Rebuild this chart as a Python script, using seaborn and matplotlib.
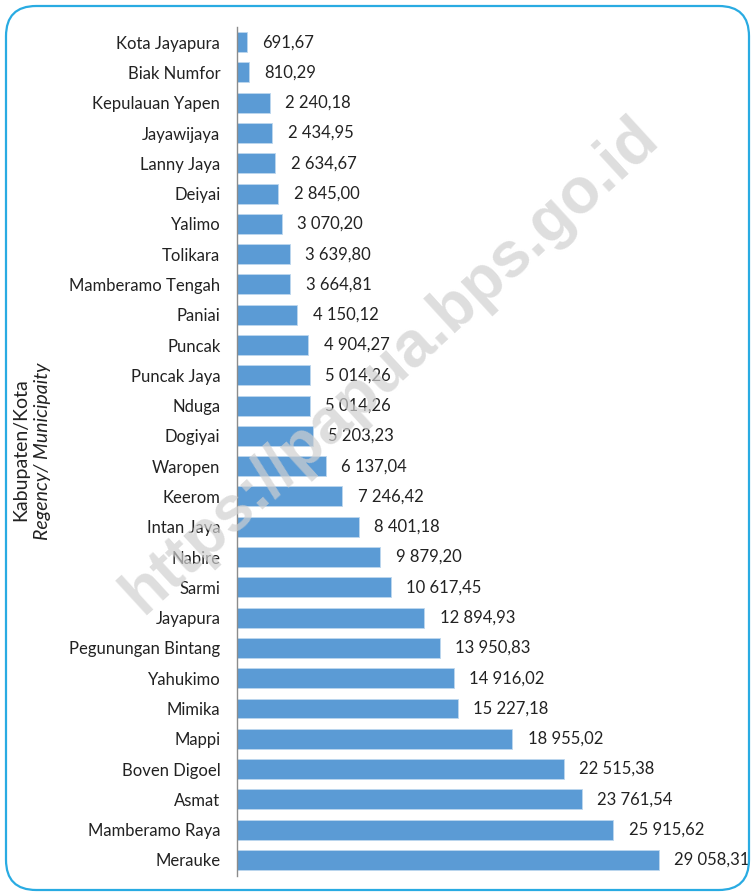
import matplotlib
matplotlib.use("Agg")
import matplotlib.pyplot as plt
import seaborn as sns
import pandas as pd
from matplotlib.patches import FancyBboxPatch

# data
wilayah = ["Kota Jayapura", "Biak Numfor", "Kepulauan Yapen", "Jayawijaya", "Lanny Jaya",
           "Deiyai", "Yalimo", "Tolikara", "Mamberamo Tengah", "Paniai", "Puncak",
           "Puncak Jaya", "Nduga", "Dogiyai", "Waropen", "Keerom", "Intan Jaya", "Nabire",
           "Sarmi", "Jayapura", "Pegunungan Bintang", "Yahukimo", "Mimika", "Mappi",
           "Boven Digoel", "Asmat", "Mamberamo Raya", "Merauke"]
luas = [691.67, 810.29, 2240.18, 2434.95, 2634.67, 2845.00, 3070.20, 3639.80, 3664.81,
        4150.12, 4904.27, 5014.26, 5014.26, 5203.23, 6137.04, 7246.42, 8401.18, 9879.20,
        10617.45, 12894.93, 13950.83, 14916.02, 15227.18, 18955.02, 22515.38, 23761.54,
        25915.62, 29058.31]

df = pd.DataFrame({"wilayah": wilayah, "luas": luas})

sns.set_style("white")
plt.rcParams["font.family"] = ["Lato", "DejaVu Sans"]

fig = plt.figure(figsize=(7.55, 8.96), dpi=100)
ax = fig.add_axes([237 / 755, 1 - 876 / 896, (745 - 237) / 755, (876 - 27) / 896])

sns.barplot(data=df, y="wilayah", x="luas", color="#5B9BD5", saturation=1,
            width=0.66, edgecolor="#BDD7EE", linewidth=0.6, ax=ax)

ax.set_xlim(0, 29058.31 * (745 - 237) / (659 - 237))
ax.set_ylim(len(wilayah) - 0.5 + 0.03, -0.5)

for i, v in enumerate(luas):
    txt = f"{v:,.2f}".replace(",", " ").replace(".", ",")
    ax.annotate(txt, (v, i), xytext=(11, 0), textcoords="offset points",
                va="center", ha="left", fontsize=12, color="#222222")

ax.set_xlabel("")
ax.set_ylabel("")
ax.set_xticks([])
ax.tick_params(axis="y", length=0, pad=12, labelsize=12, labelcolor="#222222")
for s in ["top", "right", "bottom"]:
    ax.spines[s].set_visible(False)
ax.spines["left"].set_color("#8C8C8C")
ax.spines["left"].set_linewidth(1.0)

# judul sumbu
fig.text(21 / 755, 1 - 450 / 896, "Kabupaten/Kota", rotation=90, ha="center", va="center",
         fontsize=14, color="#222222")
fig.text(43 / 755, 1 - 451 / 896, "Regency/ Municipaity", rotation=90, ha="center", va="center",
         fontsize=14, style="italic", color="#222222")

# watermark
fig.text(390 / 755, 1 - 366 / 896, "https://papua.bps.go.id", rotation=42.5, ha="center",
         va="center", fontsize=46, fontweight="bold", family="Liberation Sans",
         color="#D0D0D0", alpha=0.7, zorder=10)

# bingkai
frame = FancyBboxPatch((6 / 755, 6 / 896), 743 / 755, 884 / 896,
                       boxstyle="round,pad=0,rounding_size=0.04",
                       transform=fig.transFigure, fill=False, edgecolor="#29ABE2",
                       linewidth=1.6, mutation_aspect=755 / 896)
fig.patches.append(frame)

fig.savefig("out.png", dpi=100)
